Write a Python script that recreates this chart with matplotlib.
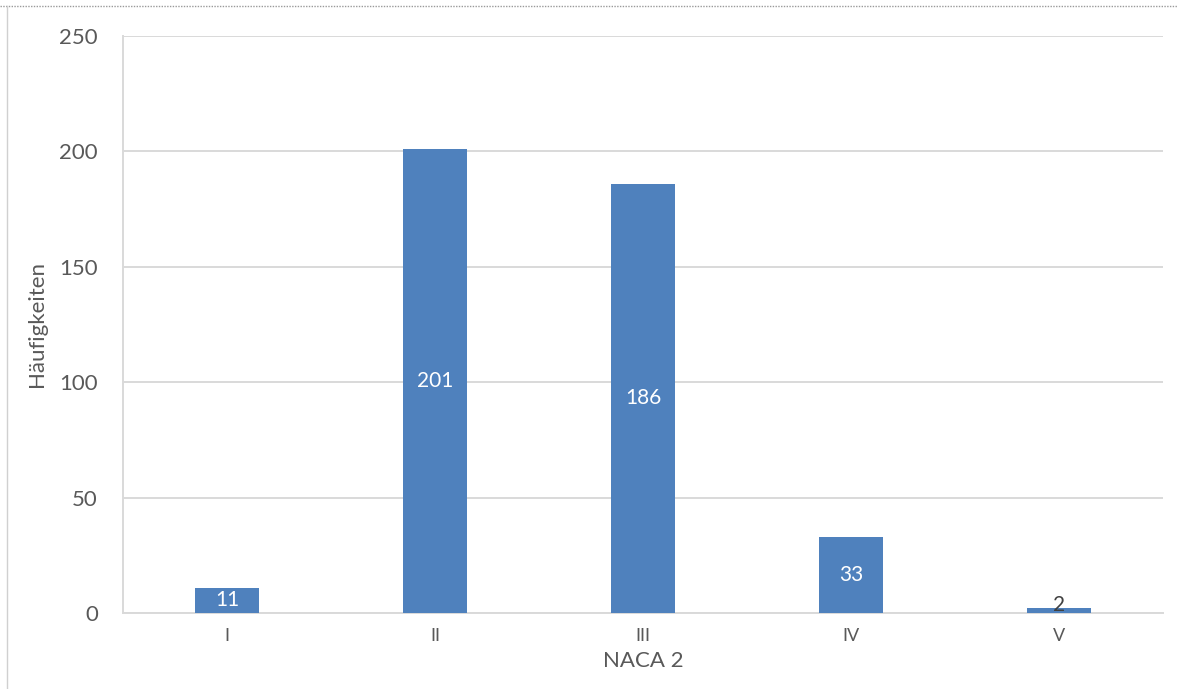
import matplotlib.pyplot as plt
from matplotlib.lines import Line2D

categories = ['I', 'II', 'III', 'IV', 'V']
counts = [11, 201, 186, 33, 2]
label_colors = ['white', 'white', 'white', 'white', '#404040']
y_ticks = [0, 50, 100, 150, 200, 250]

plt.rcParams['font.family'] = ['Lato', 'DejaVu Sans']
text_color = '#595959'
bar_color = '#4F81BD'
grid_color = '#d9d9d9'

fig = plt.figure(figsize=(11.77, 6.89), dpi=100)
ax = fig.add_axes([0.1045, 0.1103, 0.8835, 0.8375])

x = list(range(len(categories)))
bars = ax.bar(x, counts, width=0.31, color=bar_color, zorder=3)

# value labels centred in each bar; the tiny bar gets a dark label resting on it
for xi, v, c in zip(x, counts, label_colors):
    if v < 5:
        ax.text(xi, v + 1.5, str(v), ha='center', va='center', color=c, fontsize=15, zorder=4)
    else:
        ax.text(xi, v / 2, str(v), ha='center', va='center', color=c, fontsize=15, zorder=4)

ax.set_xlim(-0.5, len(categories) - 0.5)
ax.set_ylim(0, 250)
ax.set_yticks(y_ticks)
ax.set_xticks(x)
ax.set_xticklabels(categories)
ax.yaxis.grid(True, color=grid_color, linewidth=1.4, zorder=0)
ax.tick_params(axis='both', length=0, colors=text_color)
ax.tick_params(axis='y', pad=18, labelsize=16)
ax.tick_params(axis='x', pad=11, labelsize=13)

for side in ['top', 'right']:
    ax.spines[side].set_visible(False)
ax.spines['left'].set_color(grid_color)
ax.spines['left'].set_linewidth(1.4)
ax.spines['bottom'].set_color(grid_color)
ax.spines['bottom'].set_linewidth(1.4)

ax.set_xlabel('NACA 2', color=text_color, fontsize=16, labelpad=5)
ax.set_ylabel('Häufigkeiten', color=text_color, fontsize=16, labelpad=9)

# outer frame: dotted top edge, solid left edge
fig.add_artist(Line2D([0, 1], [0.991, 0.991], transform=fig.transFigure,
                      color='#9a9a9a', linewidth=1, linestyle=(0, (1, 1))))
fig.add_artist(Line2D([0.006, 0.006], [0, 0.991], transform=fig.transFigure,
                      color='#d0d0d0', linewidth=1))

fig.savefig('out.png', dpi=100)
